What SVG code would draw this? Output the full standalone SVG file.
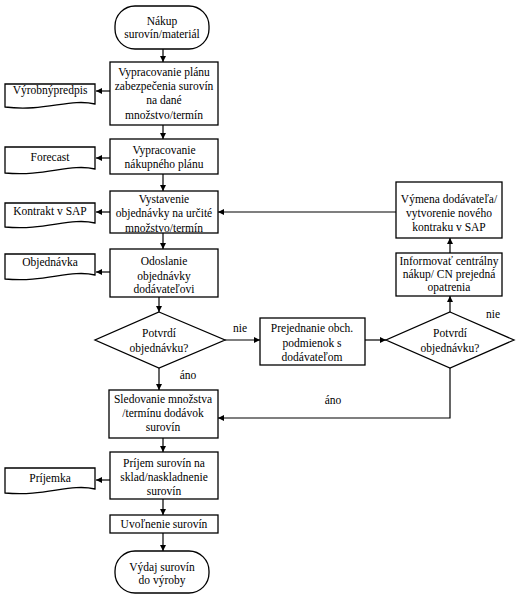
<svg xmlns="http://www.w3.org/2000/svg" width="516" height="599" viewBox="0 0 516 599" font-family="'Liberation Serif', 'Times New Roman', serif" font-size="11.5">
<style>
.s{fill:#fff;stroke:#000;stroke-width:1.3}
.l{fill:none;stroke:#000;stroke-width:1.2;marker-end:url(#a)}
text{fill:#000;text-anchor:middle}
</style>
<defs>
<marker id="a" markerUnits="userSpaceOnUse" markerWidth="7" markerHeight="7" refX="6" refY="3" orient="auto">
<path d="M0,0 L6,3 L0,6 z" fill="#000"/>
</marker>
</defs>
<rect width="516" height="599" fill="#fff"/>
<g id="connectors">
<path class="l" d="M163,49 V62"/>
<path class="l" d="M163,125 V139"/>
<path class="l" d="M163,174 V191"/>
<path class="l" d="M163,233 V249"/>
<path class="l" d="M159,297 V312"/>
<path class="l" d="M159,368 V390"/>
<path class="l" d="M225,340 H260"/>
<path class="l" d="M365,340 H386"/>
<path class="l" d="M450,312 V296"/>
<path class="l" d="M450,253 V238"/>
<path class="l" d="M396,212 H218"/>
<path class="l" d="M450,368 V418 H218"/>
<path class="l" d="M163,438 V452"/>
<path class="l" d="M163,499 V515"/>
<path class="l" d="M163,533 V551"/>
<path class="l" d="M110,91 H96"/>
<path class="l" d="M110,158 H96"/>
<path class="l" d="M110,212 H96"/>
<path class="l" d="M110,272 H96"/>
<path class="l" d="M110,480 H96"/>
</g>
<g id="start">
<rect class="s" x="115" y="6" width="94" height="43" rx="20"/>
<text x="162" y="25">Nákup</text>
<text x="162" y="38">surovín/materiál</text>
</g>
<g id="plan">
<rect class="s" x="110" y="62" width="108" height="63"/>
<text x="164" y="76">Vypracovanie plánu</text>
<text x="164" y="90">zabezpečenia surovín</text>
<text x="164" y="104">na dané</text>
<text x="164" y="119">množstvo/termín</text>
</g>
<g id="doc1">
<path class="s" d="M5,84 H95 V104 C70,98 45,112 5,107 Z"/>
<text x="50" y="94">Výrobnýpredpis</text>
</g>
<g id="nakupplan">
<rect class="s" x="110" y="139" width="108" height="35"/>
<text x="164" y="154">Vypracovanie</text>
<text x="164" y="168">nákupného plánu</text>
</g>
<g id="doc2">
<path class="s" d="M5,147 H95 V169 C70,163 45,177 5,173 Z"/>
<text x="50" y="161">Forecast</text>
</g>
<g id="vystavenie">
<rect class="s" x="110" y="191" width="108" height="42"/>
<text x="164" y="203">Vystavenie</text>
<text x="164" y="217">objednávky na určité</text>
<text x="164" y="232">množstvo/termín</text>
</g>
<g id="doc3">
<path class="s" d="M5,203 H95 V223 C70,217 45,231 5,227 Z"/>
<text x="50" y="215">Kontrakt v SAP</text>
</g>
<g id="odoslanie">
<rect class="s" x="110" y="249" width="108" height="48"/>
<text x="164" y="265">Odoslanie</text>
<text x="164" y="280">objednávky</text>
<text x="164" y="293">dodávateľovi</text>
</g>
<g id="doc4">
<path class="s" d="M5,254 H95 V275 C70,269 45,283 5,279 Z"/>
<text x="50" y="266">Objednávka</text>
</g>
<g id="dec1">
<polygon class="s" points="159,312 225,340 159,368 95,340"/>
<text x="159" y="337">Potvrdí</text>
<text x="159" y="352">objednávku?</text>
</g>
<g id="prejednanie">
<rect class="s" x="260" y="318" width="105" height="47"/>
<text x="312" y="332">Prejednanie obch.</text>
<text x="312" y="347">podmienok s</text>
<text x="312" y="361">dodávateľom</text>
</g>
<g id="dec2">
<polygon class="s" points="450,312 514,340 450,368 386,340"/>
<text x="450" y="337">Potvrdí</text>
<text x="450" y="352">objednávku?</text>
</g>
<g id="informovat">
<rect class="s" x="396" y="253" width="106" height="43"/>
<text x="449" y="265">Informovať centrálny</text>
<text x="449" y="278">nákup/ CN prejedná</text>
<text x="449" y="291">opatrenia</text>
</g>
<g id="vymena">
<rect class="s" x="396" y="182" width="106" height="56"/>
<text x="449" y="203">Výmena dodávateľa/</text>
<text x="449" y="217">vytvorenie nového</text>
<text x="449" y="231">kontraku v SAP</text>
</g>
<g id="sledovanie">
<rect class="s" x="109" y="390" width="109" height="48"/>
<text x="163" y="403">Sledovanie množstva</text>
<text x="163" y="417">/termínu dodávok</text>
<text x="163" y="431">surovín</text>
</g>
<g id="prijem">
<rect class="s" x="110" y="452" width="108" height="47"/>
<text x="164" y="467">Príjem surovín na</text>
<text x="164" y="481">sklad/naskladnenie</text>
<text x="164" y="495">surovín</text>
</g>
<g id="doc5">
<path class="s" d="M5,468 H95 V489 C70,483 45,497 5,493 Z"/>
<text x="50" y="482">Príjemka</text>
</g>
<g id="uvolnenie">
<rect class="s" x="110" y="515" width="108" height="18"/>
<text x="164" y="528">Uvoľnenie surovín</text>
</g>
<g id="end">
<rect class="s" x="115" y="551" width="94" height="42" rx="20"/>
<text x="162" y="571">Výdaj surovín</text>
<text x="162" y="584">do výroby</text>
</g>
<g id="labels">
<text x="240" y="332">nie</text>
<text x="493" y="318">nie</text>
<text x="188" y="379">áno</text>
<text x="333" y="404">áno</text>
</g>
</svg>
